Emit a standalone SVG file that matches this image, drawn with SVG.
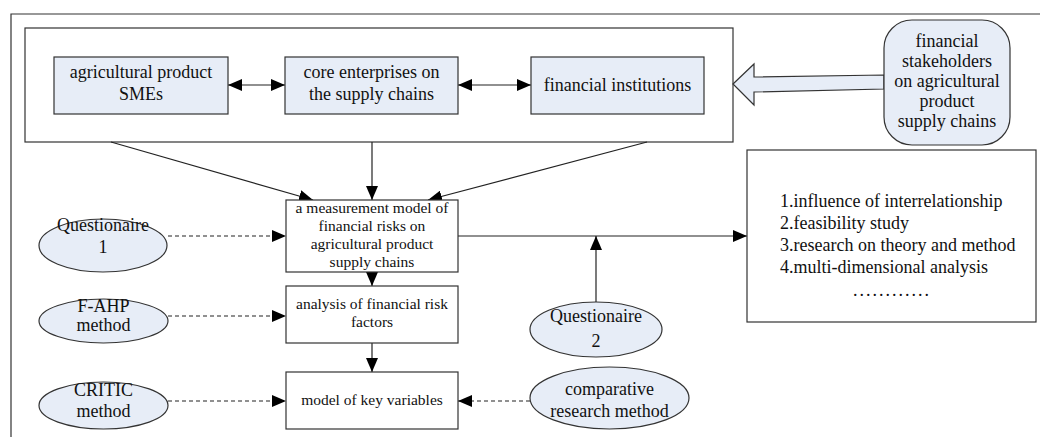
<svg xmlns="http://www.w3.org/2000/svg" width="1040" height="437" viewBox="0 0 1040 437">
<style>
.frame{fill:none;stroke:#333;stroke-width:1.2}
.box{fill:#fff;stroke:#333;stroke-width:1.2}
.node{fill:#e7edf7;stroke:#333;stroke-width:1.2}
.ln{fill:none;stroke:#222;stroke-width:1.2}
.dash{fill:none;stroke:#222;stroke-width:1.2;stroke-dasharray:4 3}
text{font-family:"Liberation Serif","Times New Roman",serif;fill:#111;text-anchor:middle}
.t18{font-size:18px}
.t15{font-size:15.5px}
.left{text-anchor:start}
</style>
<defs>
<marker id="ah" markerUnits="userSpaceOnUse" markerWidth="14" markerHeight="12" viewBox="0 0 14 12" refX="14" refY="6" orient="auto-start-reverse">
<path d="M0,0 L14,6 L0,12 Z" fill="#000"/>
</marker>
</defs>
<rect width="1040" height="437" fill="#fff"/>
<path class="frame" d="M11,437 V14 H1040"/>
<rect class="box" x="25" y="28" width="708" height="114"/>

<g id="connectors">
<line class="ln" x1="228" y1="85" x2="285" y2="85" marker-start="url(#ah)" marker-end="url(#ah)"/>
<line class="ln" x1="458" y1="85" x2="531" y2="85" marker-start="url(#ah)" marker-end="url(#ah)"/>
<polygon points="733,84 754,64 754,77 884,75 884,89 754,92 754,105" fill="#e7edf7" stroke="#333" stroke-width="1.2"/>
<line class="ln" x1="111" y1="142" x2="313" y2="200" marker-end="url(#ah)"/>
<line class="ln" x1="372" y1="142" x2="372" y2="200" marker-end="url(#ah)"/>
<line class="ln" x1="647" y1="142" x2="428" y2="200" marker-end="url(#ah)"/>
<line class="ln" x1="372" y1="272" x2="372" y2="286" marker-end="url(#ah)"/>
<line class="ln" x1="372" y1="343" x2="372" y2="372" marker-end="url(#ah)"/>
<line class="ln" x1="458" y1="236" x2="747" y2="236" marker-end="url(#ah)"/>
<line class="ln" x1="596" y1="302" x2="596" y2="236" marker-end="url(#ah)"/>
<line class="dash" x1="168" y1="236" x2="286" y2="236" marker-end="url(#ah)"/>
<line class="dash" x1="168" y1="316" x2="286" y2="316" marker-end="url(#ah)"/>
<line class="dash" x1="168" y1="401" x2="286" y2="401" marker-end="url(#ah)"/>
<line class="dash" x1="530" y1="401" x2="458" y2="401" marker-end="url(#ah)"/>
</g>

<g id="n-smes">
<rect class="node" x="54" y="57" width="174" height="57"/>
<text class="t18" x="141" y="78">agricultural product</text>
<text class="t18" x="141" y="100">SMEs</text>
</g>
<g id="n-core">
<rect class="node" x="285" y="57" width="173" height="57"/>
<text class="t18" x="371.5" y="78">core enterprises on</text>
<text class="t18" x="371.5" y="100">the supply chains</text>
</g>
<g id="n-fin">
<rect class="node" x="531" y="57" width="173" height="57"/>
<text class="t18" x="617.5" y="91">financial institutions</text>
</g>
<g id="n-stake">
<rect class="node" x="884" y="20" width="126" height="125" rx="28" ry="28"/>
<text class="t18" x="947" y="47">financial</text>
<text class="t18" x="947" y="67">stakeholders</text>
<text class="t18" x="947" y="87">on agricultural</text>
<text class="t18" x="947" y="107">product</text>
<text class="t18" x="947" y="127">supply chains</text>
</g>
<g id="n-measure">
<rect class="box" x="286" y="200" width="172" height="72"/>
<text class="t15" x="372" y="213">a measurement model of</text>
<text class="t15" x="372" y="231">financial risks on</text>
<text class="t15" x="372" y="249">agricultural product</text>
<text class="t15" x="372" y="267">supply chains</text>
</g>
<g id="n-analysis">
<rect class="box" x="286" y="286" width="172" height="57"/>
<text class="t15" x="372" y="309">analysis of financial risk</text>
<text class="t15" x="372" y="327">factors</text>
</g>
<g id="n-key">
<rect class="box" x="286" y="372" width="172" height="57"/>
<text class="t15" x="372" y="405">model of key variables</text>
</g>
<g id="n-q1">
<ellipse class="node" cx="103" cy="245.5" rx="64" ry="26.5"/>
<text class="t18" x="103" y="231">Questionaire</text>
<text class="t18" x="103" y="253">1</text>
</g>
<g id="n-fahp">
<ellipse class="node" cx="103.5" cy="321" rx="64.5" ry="22"/>
<text class="t18" x="103.5" y="312">F-AHP</text>
<text class="t18" x="103.5" y="331">method</text>
</g>
<g id="n-critic">
<ellipse class="node" cx="103.5" cy="405.5" rx="64.5" ry="23.5"/>
<text class="t18" x="103.5" y="396">CRITIC</text>
<text class="t18" x="103.5" y="417">method</text>
</g>
<g id="n-q2">
<ellipse class="node" cx="596" cy="329.5" rx="66" ry="27.5"/>
<text class="t18" x="596" y="322">Questionaire</text>
<text class="t18" x="596" y="347">2</text>
</g>
<g id="n-comp">
<ellipse class="node" cx="609.5" cy="398" rx="79.5" ry="31"/>
<text class="t18" x="609.5" y="395">comparative</text>
<text class="t18" x="609.5" y="417">research method</text>
</g>
<g id="n-result">
<rect class="box" x="747" y="150" width="289" height="172"/>
<text class="t18 left" x="780" y="207">1.influence of interrelationship</text>
<text class="t18 left" x="780" y="229">2.feasibility study</text>
<text class="t18 left" x="780" y="251">3.research on theory and method</text>
<text class="t18 left" x="780" y="273">4.multi-dimensional analysis</text>
<text class="t18 left" x="853" y="296" letter-spacing="2">............</text>
</g>
</svg>
